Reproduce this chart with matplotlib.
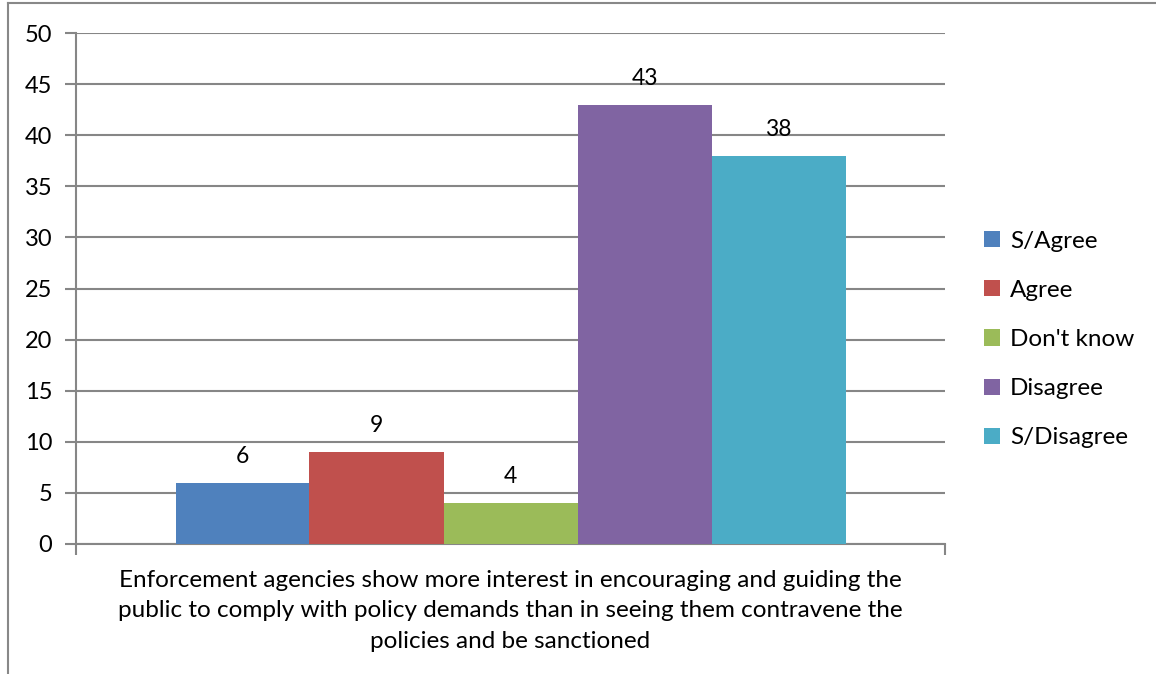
import matplotlib.pyplot as plt
from matplotlib.lines import Line2D

categories = ["S/Agree", "Agree", "Don't know", "Disagree", "S/Disagree"]
values = [6, 9, 4, 43, 38]
colors = ["#4F81BD", "#C0504D", "#9BBB59", "#8064A2", "#4BACC6"]
y_ticks = [0, 5, 10, 15, 20, 25, 30, 35, 40, 45, 50]
x_label = ("Enforcement agencies show more interest in encouraging and guiding the\n"
           "public to comply with policy demands than in seeing them contravene the\n"
           "policies and be sanctioned")

plt.rcParams['font.family'] = ['Lato', 'DejaVu Sans']
grid_color = "#868686"

fig = plt.figure(figsize=(11.56, 6.74), dpi=100)
ax = fig.add_axes([76 / 1156, 1 - 544 / 674, 869 / 1156, 511 / 674])

bar_w = 134 / 869
start = 0.5 - 2.5 * bar_w
for i, (name, val, col) in enumerate(zip(categories, values, colors)):
    x = start + (i + 0.5) * bar_w
    ax.bar(x, val, width=bar_w, color=col, label=name, zorder=3)
    ax.annotate(str(val), (x, val), xytext=(0, 19), textcoords="offset points",
                ha="center", va="center", fontsize=16.5, color="black")

ax.set_xlim(0, 1)
ax.set_ylim(0, 50)
ax.set_yticks(y_ticks)
ax.tick_params(axis="y", direction="out", length=8, width=1.5, color=grid_color,
               labelsize=17, pad=9)
ax.set_xticks([0, 1])
ax.set_xticklabels(["", ""])
ax.tick_params(axis="x", direction="out", length=8, width=1.5, color=grid_color)
ax.grid(axis="y", color=grid_color, linewidth=1.5, zorder=0)
for side in ["top", "right"]:
    ax.spines[side].set_visible(False)
for side in ["left", "bottom"]:
    ax.spines[side].set_color(grid_color)
    ax.spines[side].set_linewidth(1.5)

ax.text(0.5, -0.05, x_label, transform=ax.transAxes, ha="center", va="top",
        fontsize=17.5, linespacing=1.58)

ax.legend(loc="center left", bbox_to_anchor=(1.02, 0.40), frameon=False,
          fontsize=17.5, handlelength=0.65, handleheight=0.65, handletextpad=0.4,
          labelspacing=1.16)

# outer chart frame (left and top edges)
fig.add_artist(Line2D([8 / 1156, 8 / 1156], [0, 1 - 3 / 674], color="#888888",
                      linewidth=1.5, transform=fig.transFigure))
fig.add_artist(Line2D([8 / 1156, 1], [1 - 3 / 674, 1 - 3 / 674], color="#888888",
                      linewidth=1.5, transform=fig.transFigure))

fig.savefig("out.png", dpi=100)
